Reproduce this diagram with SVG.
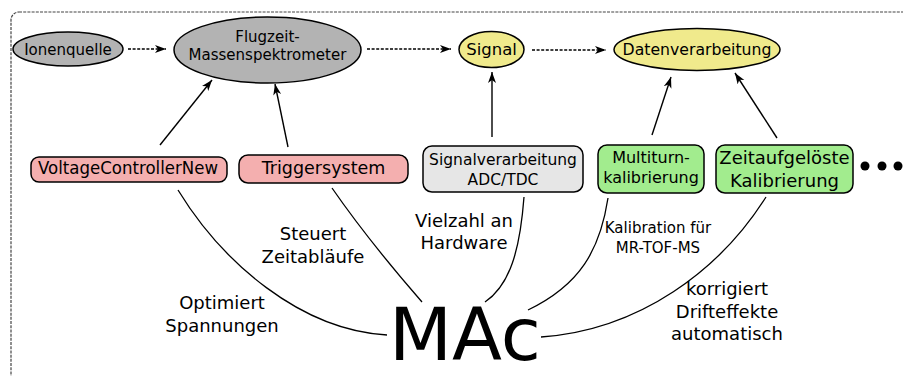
<svg xmlns="http://www.w3.org/2000/svg" width="903" height="376" viewBox="0 0 903 376">
<style>
text{font-family:"DejaVu Sans",sans-serif;fill:#000;text-anchor:middle}
.ell{stroke:#000;stroke-width:1.5}
.box{stroke:#000;stroke-width:1.5}
.gray{fill:#b3b3b3}
.yel{fill:#f0ea8c}
.pink{fill:#f4afaf}
.green{fill:#a2ec8e}
.lg{fill:#e6e6e6}
.dash{stroke:#000;stroke-width:1.3;stroke-dasharray:3,1.6;fill:none}
.arr{stroke:#000;stroke-width:1.4;fill:none}
.cur{stroke:#000;stroke-width:1.3;fill:none}
</style>
<defs>
<marker id="ah" markerUnits="userSpaceOnUse" markerWidth="12" markerHeight="10" refX="11" refY="4.5" orient="auto">
<path d="M0,0.5 L11,4.5 L0,8.5 L3,4.5 z" fill="#000"/>
</marker>
</defs>
<rect x="11" y="12" width="900" height="372" rx="8" fill="none" stroke="#444" stroke-width="1.2" stroke-dasharray="3,1.2"/>
<g id="connectors">
<line class="dash" x1="128" y1="49" x2="166" y2="49" marker-end="url(#ah)"/>
<line class="dash" x1="367" y1="49" x2="451" y2="49" marker-end="url(#ah)"/>
<line class="dash" x1="532" y1="50" x2="606" y2="50" marker-end="url(#ah)"/>
<line class="arr" x1="160" y1="145" x2="212" y2="80" marker-end="url(#ah)"/>
<line class="arr" x1="288" y1="147" x2="275" y2="84" marker-end="url(#ah)"/>
<line class="arr" x1="492" y1="137" x2="492" y2="72" marker-end="url(#ah)"/>
<line class="arr" x1="652" y1="135" x2="671" y2="77" marker-end="url(#ah)"/>
<line class="arr" x1="777" y1="138" x2="735" y2="73" marker-end="url(#ah)"/>
<path class="cur" d="M178,190 C222,262 300,330 387,335"/>
<path class="cur" d="M332,188 Q368,240 422,302"/>
<path class="cur" d="M524,197 C520,250 510,285 485,302"/>
<path class="cur" d="M608,198 C600,250 580,285 528,310"/>
<path class="cur" d="M766,197 C720,270 640,330 541,337"/>
</g>
<g id="ionenquelle">
<ellipse class="ell gray" cx="68" cy="49" rx="55" ry="17"/>
<text x="68" y="55" font-size="15">Ionenquelle</text>
</g>
<g id="flugzeit">
<ellipse class="ell gray" cx="267.5" cy="50" rx="93.5" ry="33"/>
<text x="267.5" y="42" font-size="15">Flugzeit-</text>
<text x="267.5" y="60" font-size="15">Massenspektrometer</text>
</g>
<g id="signal">
<ellipse class="ell yel" cx="491.5" cy="49.5" rx="32.5" ry="18"/>
<text x="491.5" y="55" font-size="16.5">Signal</text>
</g>
<g id="datenverarbeitung">
<ellipse class="ell yel" cx="697" cy="49.5" rx="83" ry="21"/>
<text x="697" y="55" font-size="15.7">Datenverarbeitung</text>
</g>
<g id="voltagecontroller">
<rect class="box pink" x="31" y="157" width="196" height="25" rx="8"/>
<text x="128" y="174" font-size="17.5" textLength="180" lengthAdjust="spacingAndGlyphs">VoltageControllerNew</text>
</g>
<g id="triggersystem">
<rect class="box pink" x="239" y="155" width="169" height="28" rx="9"/>
<text x="323.5" y="174" font-size="17.5">Triggersystem</text>
</g>
<g id="signalverarbeitung">
<rect class="box lg" x="423" y="146" width="160" height="46" rx="9"/>
<text x="503" y="165" font-size="15.5">Signalverarbeitung</text>
<text x="503" y="185" font-size="15.5">ADC/TDC</text>
</g>
<g id="multiturn">
<rect class="box green" x="598" y="145" width="106" height="48" rx="9"/>
<text x="651" y="162.5" font-size="16">Multiturn-</text>
<text x="651" y="183" font-size="16">kalibrierung</text>
</g>
<g id="zeitaufgeloest">
<rect class="box green" x="716" y="145" width="137" height="48" rx="9"/>
<text x="784.5" y="164" font-size="18">Zeitaufgelöste</text>
<text x="784.5" y="187" font-size="18">Kalibrierung</text>
</g>
<g id="dots">
<circle cx="865" cy="166" r="4.5"/>
<circle cx="882" cy="166" r="4.5"/>
<circle cx="898" cy="166" r="4.5"/>
</g>
<g id="labels">
<text x="313" y="240" font-size="18">Steuert</text>
<text x="313" y="263" font-size="18">Zeitabläufe</text>
<text x="464" y="227" font-size="18">Vielzahl an</text>
<text x="464" y="249" font-size="18">Hardware</text>
<text x="658" y="233" font-size="15">Kalibration für</text>
<text x="658" y="253" font-size="15">MR-TOF-MS</text>
<text x="222" y="309" font-size="18">Optimiert</text>
<text x="222" y="332" font-size="18">Spannungen</text>
<text x="727" y="295" font-size="18">korrigiert</text>
<text x="727" y="318" font-size="18">Drifteffekte</text>
<text x="727" y="340" font-size="18">automatisch</text>
</g>
<g id="mac">
<text x="465" y="360" font-size="73">MAc</text>
</g>
</svg>
